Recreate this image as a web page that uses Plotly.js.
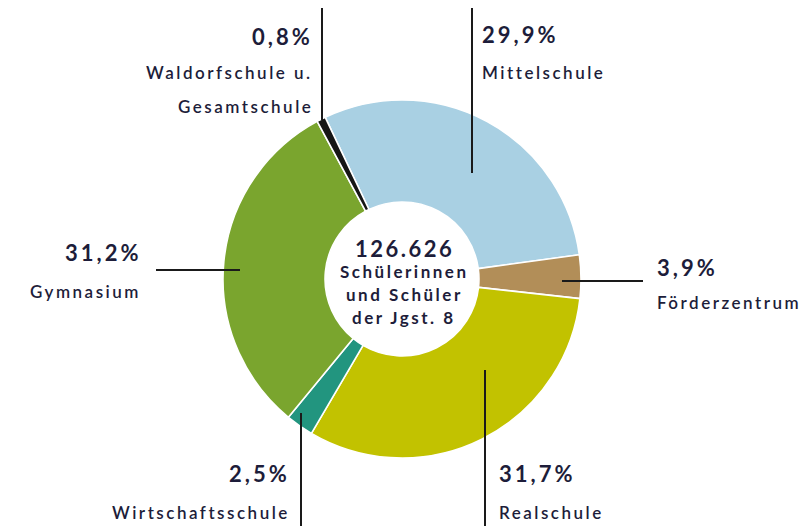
<!DOCTYPE html>
<html>
<head>
<meta charset="utf-8">
<script src="https://cdn.plot.ly/plotly-3.0.1.min.js"></script>
<style>html,body{margin:0;padding:0;background:#fff}#chart{width:810px;height:526px}</style>
</head>
<body>
<div id="chart"></div>
<script>
const categories = ["Mittelschule", "Förderzentrum", "Realschule", "Wirtschaftsschule", "Gymnasium", "Waldorfschule u. Gesamtschule"];
const shares = [29.9, 3.9, 31.7, 2.5, 31.2, 0.8];
const shareLabels = ["29,9%", "3,9%", "31,7%", "2,5%", "31,2%", "0,8%"];
const nameLines = [["Mittelschule"], ["Förderzentrum"], ["Realschule"], ["Wirtschaftsschule"], ["Gymnasium"], ["Waldorfschule u.", "Gesamtschule"]];
const colors = ["#a9d0e3", "#b28e58", "#c2c200", "#22957f", "#7aa52e", "#161616"];
const totalLabel = "126.626";
const centerText = ["Schülerinnen", "und Schüler", "der Jgst. 8"];

const W = 810, H = 526;
const px = x => x / W;
const py = y => 1 - y / H;
const ink = "#1d1d3a";
const FONT = "Lato, 'Open Sans', sans-serif";
const sp = (t, s) => '<span style="letter-spacing:' + s + 'px">' + t + '</span>';

// pie geometry (pixels)
const cx = 402, cy = 279, R = 179;

const trace = {
  type: "pie",
  labels: categories,
  values: shares,
  sort: false,
  direction: "clockwise",
  rotation: -25.4,
  hole: 0.43,
  textinfo: "none",
  hoverinfo: "none",
  marker: {colors: colors, line: {color: "#ffffff", width: 1.6}},
  domain: {x: [px(cx - R), px(cx + R)], y: [py(cy + R), py(cy - R)]},
  showlegend: false
};

// label placements: [x, pctY, [nameY...], anchor]
const place = [
  [480, 35, [72], "left"],
  [655, 267, [302], "left"],
  [497, 473, [512], "left"],
  [292, 473, [512], "right"],
  [143, 253, [291], "right"],
  [315, 37, [72, 106], "right"]
];

const annotations = [];
shares.forEach((v, i) => {
  const p = place[i];
  annotations.push({xref: "paper", yref: "paper", x: px(p[0]), y: py(p[1]), xanchor: p[3], yanchor: "middle",
    text: "<b>" + sp(shareLabels[i], 3) + "</b>", showarrow: false, font: {family: FONT, size: 22, color: ink}});
  nameLines[i].forEach((t, j) => {
    annotations.push({xref: "paper", yref: "paper", x: px(p[0]), y: py(p[2][j]), xanchor: p[3], yanchor: "middle",
      text: sp(t, 2.5), showarrow: false, font: {family: FONT, size: 17, weight: 600, color: ink}});
  });
});

// center text
annotations.push({xref: "paper", yref: "paper", x: px(404), y: py(248), xanchor: "center", yanchor: "middle",
  text: "<b>" + sp(totalLabel, 2.5) + "</b>", showarrow: false, font: {family: FONT, size: 22, color: ink}});
const cys = [271, 294, 317];
centerText.forEach((t, i) => annotations.push({xref: "paper", yref: "paper", x: px(404), y: py(cys[i]),
  xanchor: "center", yanchor: "middle", text: "<b>" + sp(t, 2.5) + "</b>", showarrow: false,
  font: {family: FONT, size: 17, color: ink}}));

// leader lines
const seg = [
  [322, 8, 322, 120],
  [472, 8, 472, 173],
  [156, 270, 240, 270],
  [562, 281, 643, 281],
  [301, 413, 301, 526],
  [485, 370, 485, 526]
];
const shapes = seg.map(s => ({type: "line", xref: "paper", yref: "paper",
  x0: px(s[0]), y0: py(s[1]), x1: px(s[2]), y1: py(s[3]), line: {color: "#1a1a1a", width: 2}}));

Plotly.newPlot("chart", [trace], {
  width: W, height: H,
  margin: {l: 0, r: 0, t: 0, b: 0},
  paper_bgcolor: "#ffffff",
  annotations: annotations,
  shapes: shapes
}, {staticPlot: true});
</script>
</body>
</html>
